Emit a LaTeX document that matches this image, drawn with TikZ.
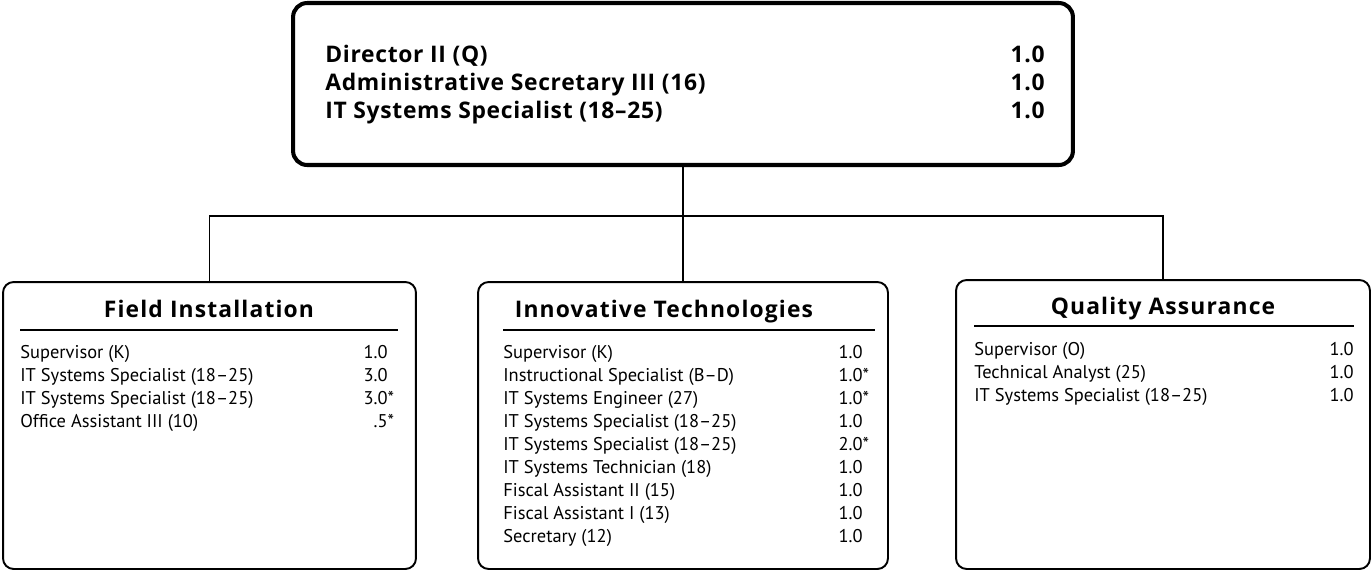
\documentclass[tikz,border=0pt]{standalone}
\usepackage{fontspec}
\setmainfont{PT Sans}
\newfontfamily\chieffont{Open Sans}[Ligatures=TeX,LetterSpace=3]
\newfontfamily\headfont{Open Sans}[Ligatures=TeX,LetterSpace=5]
\usetikzlibrary{positioning}
\newcommand\addl{\rlap{*}}
\tikzset{
  org chief/.style={
    rectangle,
    draw,
    line width=2.3pt,
    rounded corners=8pt,
    minimum width=15.6cm,
    minimum height=3.24cm,
  },
  org unit/.style={
    rectangle,
    draw,
    line width=1.1pt,
    rounded corners=6pt,
    minimum width=8.26cm,
    minimum height=5.74cm,
  },
  org line/.style={line width=1.1pt},
  org rule/.style={line width=0.9pt},
  org title/.style={font=\headfont\bfseries\fontsize{13}{15}\selectfont, inner sep=0pt, anchor=base},
  chief item/.style={font=\chieffont\bfseries\fontsize{13}{15}\selectfont, inner sep=0pt, anchor=base west},
  chief fte/.style={font=\chieffont\bfseries\fontsize{13}{15}\selectfont, inner sep=0pt, anchor=base east},
  org item/.style={font=\fontsize{10.5}{12}\selectfont, inner sep=0pt, anchor=base west},
  org fte/.style={font=\fontsize{10.5}{12}\selectfont, inner sep=0pt, anchor=base east},
}

\begin{document}
\begin{tikzpicture}[x=0.02cm,y=-0.02cm]
  \useasboundingbox (0,0) rectangle (1372,572);

  % boxes
  \node[org chief] (dir) at (683,84) {};
  \node[org unit] (fi) at (209.5,425.5) {};
  \node[org unit,minimum width=8.2cm] (it) at (683,425.5) {};
  \node[org unit,minimum width=8.28cm,minimum height=5.78cm] (qa) at (1163,424.5) {};

  % reporting lines
  \coordinate (bus) at (683,216);
  \draw[org line] (dir.south) -- (bus);
  \draw[org line] (fi.north) |- (bus) -| (qa.north);
  \draw[org line] (bus) -- (it.north);

  % director's office
  \foreach \job/\fte [count=\i] in {Director II (Q)/1.0,
      Administrative Secretary III (16)/1.0,
      IT Systems Specialist (18--25)/1.0} {
    \node[chief item] (dir-job-\i) at (325,{34+28*\i}) {\job};
    \node[chief fte] (dir-fte-\i) at (1045,{34+28*\i}) {\fte};
  }

  % field installation
  \node[org title] (fi-title) at (209,317) {Field Installation};
  \draw[org rule] (20,330) -- (398,330);
  \foreach \job/\fte [count=\i] in {Supervisor (K)/1.0,
      IT Systems Specialist (18--25)/3.0,
      IT Systems Specialist (18--25)/3.0\addl,
      Office Assistant III (10)/.5\addl} {
    \node[org item] (fi-job-\i) at (20,{335+23*\i}) {\job};
    \node[org fte] (fi-fte-\i) at (388,{335+23*\i}) {\fte};
  }

  % innovative technologies
  \node[org title] (it-title) at (664,317) {Innovative Technologies};
  \draw[org rule] (503,330) -- (875,330);
  \foreach \job/\fte [count=\i] in {Supervisor (K)/1.0,
      Instructional Specialist (B--D)/1.0\addl,
      IT Systems Engineer (27)/1.0\addl,
      IT Systems Specialist (18--25)/1.0,
      IT Systems Specialist (18--25)/2.0\addl,
      IT Systems Technician (18)/1.0,
      Fiscal Assistant II (15)/1.0,
      Fiscal Assistant I (13)/1.0,
      Secretary (12)/1.0} {
    \node[org item] (it-job-\i) at (503,{335+23*\i}) {\job};
    \node[org fte] (it-fte-\i) at (863,{335+23*\i}) {\fte};
  }

  % quality assurance
  \node[org title] (qa-title) at (1163,314) {Quality Assurance};
  \draw[org rule] (974,326) -- (1354,326);
  \foreach \job/\fte [count=\i] in {Supervisor (O)/1.0,
      Technical Analyst (25)/1.0,
      IT Systems Specialist (18--25)/1.0} {
    \node[org item] (qa-job-\i) at (974,{332+23*\i}) {\job};
    \node[org fte] (qa-fte-\i) at (1354,{332+23*\i}) {\fte};
  }
\end{tikzpicture}
\end{document}
